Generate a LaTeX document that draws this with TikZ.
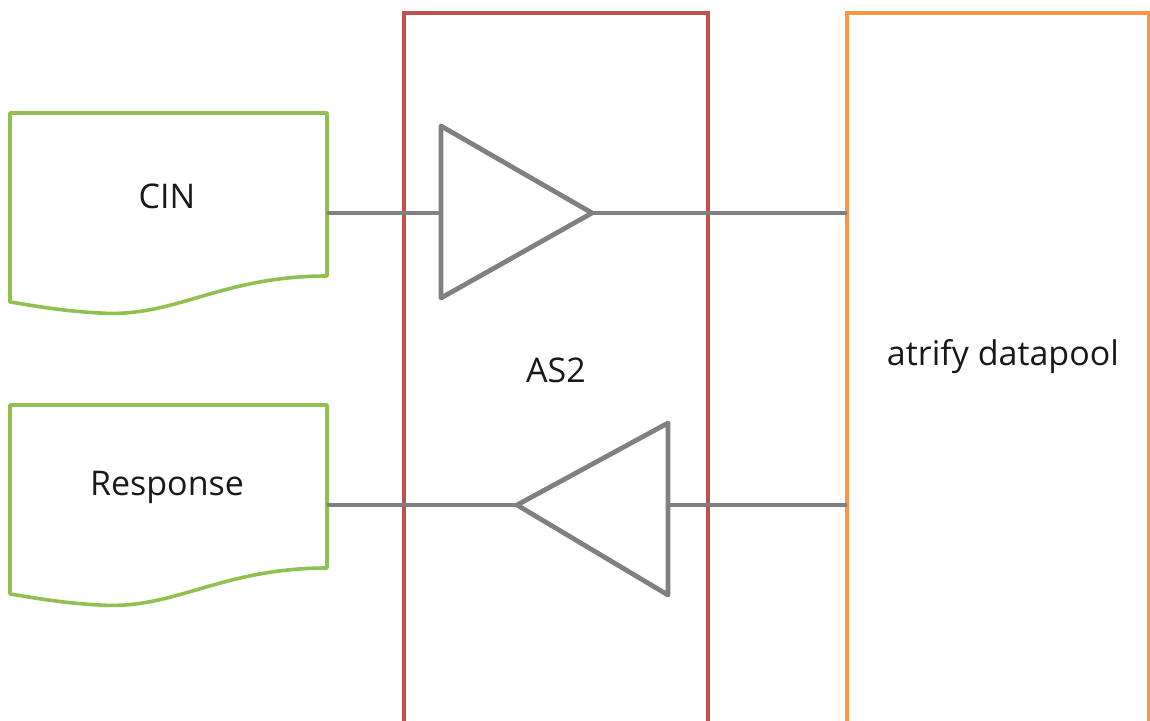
\documentclass[tikz,border=0pt]{standalone}
\usepackage{fontspec}
\setmainfont{Open Sans}
\begin{document}
\begin{tikzpicture}[x=1pt,y=-1pt,
  docshape/.style={draw=docgreen,line width=3.6pt,line join=round,fill=white},
  gline/.style={draw=linegray,line width=4.8pt},
  tri/.style={draw=linegray,line width=4.8pt,line join=round,fill=white},
  boxline/.style={line width=3.6pt},
  lbl/.style={font=\fontsize{34}{40}\selectfont,text=black!90}]
\definecolor{docgreen}{HTML}{92C050}
\definecolor{as2red}{HTML}{C0504D}
\definecolor{dporange}{HTML}{F79646}
\definecolor{linegray}{HTML}{808080}
\useasboundingbox (0,0) rectangle (1150,720);
\begin{scope}
\clip (0,0) rectangle (1150,720);
% boxes
\draw[boxline,draw=as2red] (404,760) -- (404,13) -- (708,13) -- (708,760);
\draw[boxline,draw=dporange] (847,760) -- (847,13) -- (1149,13) -- (1149,760);
\coordinate (as2c) at (556,370);
\node[lbl] (as2) at (as2c) {AS2};
\node[lbl] (dp) at (1003,357) {atrify datapool};
% document shapes
\draw[docshape] (10,113) -- (327,113) -- (327,276) .. controls (220,276) and (175,318) .. (100,313) .. controls (60,311) and (30,305) .. (10,302) -- cycle;
\draw[docshape] (10,405) -- (327,405) -- (327,568) .. controls (220,568) and (175,610) .. (100,605) .. controls (60,603) and (30,597) .. (10,594) -- cycle;
\node[lbl] (cin) at (167,196) {CIN};
\node[lbl] (resp) at (167,487) {Response};
% connectors
\coordinate (cinR) at (327,213);
\coordinate (t1L) at (441,213);
\coordinate (t1R) at (592,213);
\coordinate (dp1) at (847,213);
\coordinate (respR) at (327,505);
\coordinate (t2L) at (517,505);
\coordinate (t2R) at (668,505);
\coordinate (dp2) at (847,505);
\draw[gline] (cinR) -- (t1L);
\draw[gline] (t1R) -- (dp1);
\draw[tri] (441,126) -- (t1R) -- (441,298) -- cycle;
\draw[gline] (respR) -- (t2L);
\draw[gline] (t2R) -- (dp2);
\draw[tri] (668,423) -- (t2L) -- (668,595) -- cycle;
\end{scope}
\end{tikzpicture}
\end{document}
